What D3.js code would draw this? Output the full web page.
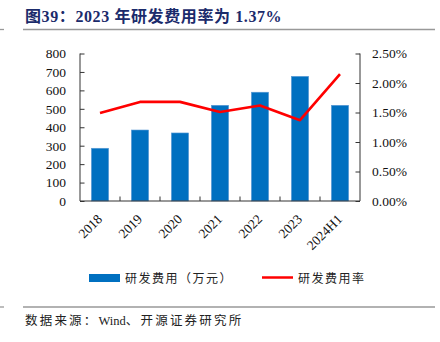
<!DOCTYPE html>
<html><head><meta charset="utf-8">
<script src="https://cdn.jsdelivr.net/npm/d3@7/dist/d3.min.js"></script>
<style>body{margin:0;background:#fff}svg{display:block}</style>
</head><body>
<svg id="c" width="440" height="342"></svg>
<script>
const categories = ["2018","2019","2020","2021","2022","2023","2024H1"];
const rdExpense = [286, 385, 369, 519, 590, 676, 519];
const rdRate = [1.49, 1.68, 1.68, 1.51, 1.62, 1.37, 2.15];
const leftTicks = [0,100,200,300,400,500,600,700,800];
const rightTicks = [0,0.5,1.0,1.5,2.0,2.5];

const svg = d3.select("#c");
const serif = "'Liberation Serif','Times New Roman','Noto Serif CJK SC','Noto Sans CJK SC',serif";
const cjk = "'Liberation Serif','Noto Sans CJK SC',serif";
const L = 80, R = 360, T = 53.5, B = 201;

const x = d3.scaleBand().domain(categories).range([L, R]).paddingInner(0.57).paddingOuter(0.285);
const xb = d3.scaleBand().domain(categories).range([L, R]);
const yL = d3.scaleLinear().domain([0, 800]).range([B, T]);
const yR = d3.scaleLinear().domain([0, 2.5]).range([B, T]);

// Title
svg.append("text").attr("x", 25).attr("y", 22).attr("fill", "#1b2b6b")
  .attr("font-family", cjk).attr("font-size", 16).attr("font-weight", "bold").attr("letter-spacing", 0.6)
  .text("图39：2023 年研发费用率为 1.37%");
svg.append("line").attr("x1", 23).attr("x2", 435).attr("y1", 29.5).attr("y2", 29.5).attr("stroke", "#999").attr("stroke-width", 1.3);
svg.append("line").attr("x1", 0).attr("x2", 4).attr("y1", 29.5).attr("y2", 29.5).attr("stroke", "#999").attr("stroke-width", 1.3);

// bars
svg.append("g").selectAll("rect").data(categories).join("rect")
  .attr("x", d => x(d)).attr("width", x.bandwidth())
  .attr("y", (d, i) => yL(rdExpense[i])).attr("height", (d, i) => B - yL(rdExpense[i]))
  .attr("fill", "#0070c0").attr("stroke", "#5b9bd5").attr("stroke-width", 0.6);

// axes
const axL = d3.axisLeft(yL).tickValues(leftTicks).tickSize(-4.5).tickPadding(14).tickFormat(d3.format("d"));
const gL = svg.append("g").attr("transform", `translate(${L},0)`).call(axL);
const axR = d3.axisRight(yR).tickValues(rightTicks).tickSize(-4.5).tickPadding(12).tickFormat(d => d.toFixed(2) + "%");
const gR = svg.append("g").attr("transform", `translate(${R},0)`).call(axR);
const axB = d3.axisBottom(xb).tickValues([]).tickSize(0);
const gB = svg.append("g").attr("transform", `translate(0,${B})`).call(axB);
// bottom ticks at band boundaries
svg.append("g").selectAll("line").data(categories.slice(1)).join("line")
  .attr("x1", d => xb(d)).attr("x2", d => xb(d)).attr("y1", B).attr("y2", B - 4.5)
  .attr("stroke", "#333");
[gL, gR, gB].forEach(g => {
  g.selectAll("path").attr("stroke", "#333").attr("stroke-width", 1);
  g.selectAll("line").attr("stroke", "#333");
  g.selectAll("text").attr("font-family", serif).attr("font-size", 13.5).attr("fill", "#111");
});
gL.select("path").attr("d", `M0,${T}V${B}`);
gR.select("path").attr("d", `M0,${T}V${B}`);
gB.select("path").attr("d", `M${L},0H${R}`);

// x labels
svg.append("g").selectAll("text").data(categories).join("text")
  .attr("transform", d => `translate(${xb(d) + xb.bandwidth()/2 + 3},${B + 19}) rotate(-45)`)
  .attr("text-anchor", "end").attr("font-family", serif).attr("font-size", 13.5).attr("fill", "#111")
  .text(d => d);

// line
const line = d3.line().x((d, i) => xb(categories[i]) + xb.bandwidth()/2).y(d => yR(d));
svg.append("path").datum(rdRate).attr("d", line).attr("fill", "none")
  .attr("stroke", "#ff0000").attr("stroke-width", 2.6).attr("stroke-linejoin", "round");

// legend
svg.append("rect").attr("x", 89).attr("y", 274).attr("width", 31).attr("height", 8).attr("fill", "#0070c0");
svg.append("text").attr("x", 125).attr("y", 282.5).attr("font-family", cjk).attr("font-size", 12).attr("fill", "#222")
  .attr("letter-spacing", 1.5).text("研发费用（万元）");
svg.append("line").attr("x1", 262).attr("x2", 293).attr("y1", 277.5).attr("y2", 277.5).attr("stroke", "#ff0000").attr("stroke-width", 2.5);
svg.append("text").attr("x", 298).attr("y", 282.5).attr("font-family", cjk).attr("font-size", 12).attr("fill", "#222")
  .attr("letter-spacing", 1.5).text("研发费用率");

// footer
svg.append("line").attr("x1", 23).attr("x2", 435).attr("y1", 307).attr("y2", 307).attr("stroke", "#999").attr("stroke-width", 1.3);
svg.append("line").attr("x1", 0).attr("x2", 4).attr("y1", 307).attr("y2", 307).attr("stroke", "#999").attr("stroke-width", 1.3);
const foot = svg.append("text").attr("x", 25).attr("y", 324.5).attr("font-family", cjk).attr("font-size", 12.5).attr("fill", "#222");
foot.append("tspan").attr("letter-spacing", 2.2).text("数据来源：");
foot.append("tspan").attr("letter-spacing", 0).text("Wind");
foot.append("tspan").attr("letter-spacing", 2.2).text("、开源证券研究所");
</script>
</body></html>
